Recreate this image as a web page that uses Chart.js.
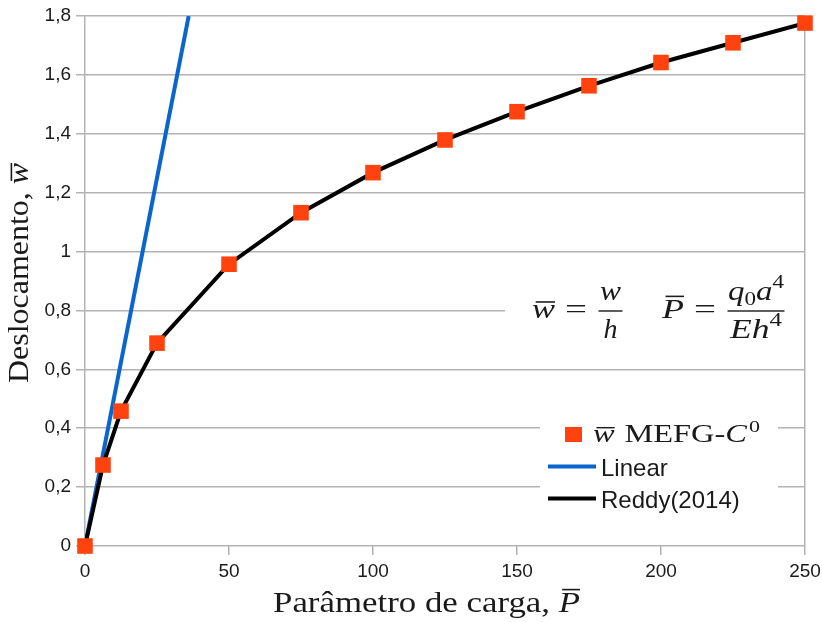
<!DOCTYPE html>
<html>
<head>
<meta charset="utf-8">
<title>Deslocamento x Parâmetro de carga</title>
<script src="https://cdn.jsdelivr.net/npm/chart.js@4.4.1/dist/chart.umd.min.js"></script>
<style>
  html, body { margin: 0; padding: 0; background: #ffffff; }
  #wrap { width: 822px; height: 622px; }
</style>
</head>
<body>
<div id="wrap"><canvas id="chart" width="822" height="622"></canvas></div>
<script>
// Load parameter P̄ and central deflection w̄
const loadParam = [0, 6.25, 12.5, 25, 50, 75, 100, 125, 150, 175, 200, 225, 250];
const mefgDeflection = [0, 0.275, 0.458, 0.689, 0.957, 1.132, 1.268, 1.379, 1.475, 1.563, 1.642, 1.709, 1.776];
const reddyDeflection = [0, 0.275, 0.458, 0.689, 0.957, 1.132, 1.268, 1.379, 1.475, 1.563, 1.642, 1.709, 1.776];

// Linear (small deflection) solution
const linearLoad = [0, 36];
const linearDeflection = [0, 1.8];

// Axis ticks
const xTickValues = [0, 50, 100, 150, 200, 250];
const xTickLabels = ['0', '50', '100', '150', '200', '250'];
const yTickValues = [0, 0.2, 0.4, 0.6, 0.8, 1.0, 1.2, 1.4, 1.6, 1.8];
const yTickLabels = ['0', '0,2', '0,4', '0,6', '0,8', '1', '1,2', '1,4', '1,6', '1,8'];

const SERIF = '"Liberation Serif", "Times New Roman", serif';
const SANS = '"Liberation Sans", Arial, sans-serif';
const INK = '#1a1a1a';
const GRID = '#b3b3b3';
const ORANGE = '#ff420e';
const BLUE = '#0a66cc';

const pairs = (xs, ys) => xs.map((x, i) => ({ x: x, y: ys[i] }));

// Draw a run of math-like text pieces at (x, y); returns the advance width
function drawRuns(ctx, runs, x, y, base, measureOnly) {
  let cx = x;
  for (const r of runs) {
    const size = base * (r.s || 1);
    ctx.font = (r.it ? 'italic ' : '') + size + 'px ' + SERIF;
    const w = ctx.measureText(r.t).width;
    if (!measureOnly) {
      ctx.fillText(r.t, cx, y + (r.dy || 0) * base);
      if (r.over) {
        ctx.fillRect(cx + w * 0.16, y - base * r.over, w * 0.84, Math.max(1.4, base * 0.055));
      }
    }
    cx += w + (r.gap || 0) * base;
  }
  return cx - x;
}
// Draw runs stretched horizontally so they span exactly `width` pixels starting at x
function drawFitted(ctx, runs, x, y, base, width) {
  const natural = drawRuns(ctx, runs, 0, 0, base, true);
  const k = width / natural;
  ctx.save();
  ctx.translate(x, y);
  ctx.scale(k, 1);
  drawRuns(ctx, runs, 0, 0, base);
  ctx.restore();
}
function fraction(ctx, num, numW, den, denW, cx, barY, barW, base) {
  drawFitted(ctx, num, cx - numW / 2, barY - 11, base, numW);
  drawFitted(ctx, den, cx - denW / 2, barY + 27, base, denW);
  ctx.fillRect(cx - barW / 2, barY - 0.7, barW, 1.4);
}

const decorations = {
  id: 'decorations',
  beforeDatasetsDraw(chart) {
    const ctx = chart.ctx;
    ctx.save();
    ctx.fillStyle = '#ffffff';
    // panel behind the definitions
    ctx.fillRect(505, 262, chart.chartArea.right - 505 - 1, 96);
    // legend panel
    ctx.fillRect(540, 414, 238, 106);
    ctx.restore();
  },
  afterDraw(chart) {
    const ctx = chart.ctx;
    const ds = chart.data.datasets;
    ctx.save();
    ctx.fillStyle = INK;
    ctx.textBaseline = 'alphabetic';
    ctx.textAlign = 'left';

    // x axis title
    drawFitted(ctx, [{ t: 'Parâmetro de carga, ' }, { t: 'P', it: true, over: 0.8 }], 273, 612, 29, 307);

    // y axis title
    ctx.save();
    ctx.translate(28, 383);
    ctx.rotate(-Math.PI / 2);
    drawFitted(ctx, [{ t: 'Deslocamento, ' }, { t: 'w', it: true, over: 0.6 }], 0, 0, 29, 220);
    ctx.restore();

    // definitions: w̄ = w/h   P̄ = q0 a^4 / (E h^4)
    const fs = 28;
    drawFitted(ctx, [{ t: 'w', it: true, over: 0.6 }], 532, 318, fs, 23);
    drawFitted(ctx, [{ t: '=' }], 565, 318, fs, 22);
    fraction(ctx, [{ t: 'w', it: true }], 21, [{ t: 'h', it: true }], 14, 610.5, 311, 24, fs);
    drawFitted(ctx, [{ t: 'P', it: true, over: 0.8 }], 662, 318, fs, 22);
    drawFitted(ctx, [{ t: '=' }], 694, 318, fs, 22);
    fraction(ctx,
      [{ t: 'q', it: true }, { t: '0', s: 0.7, dy: 0.18 }, { t: 'a', it: true }, { t: '4', s: 0.7, dy: -0.42 }], 56,
      [{ t: 'E', it: true }, { t: 'h', it: true }, { t: '4', s: 0.7, dy: -0.42 }], 52,
      756, 311, 57, fs);

    // legend
    const mk = ds[0];
    ctx.fillStyle = mk.backgroundColor;
    ctx.fillRect(565, 427, 17, 15);
    ctx.fillStyle = INK;
    drawFitted(ctx, [
      { t: 'w', it: true, over: 0.6, gap: 0.3 },
      { t: 'MEFG-' },
      { t: 'C', it: true, gap: 0.06 },
      { t: '0', s: 0.68, dy: -0.42 }
    ], 593, 442, 25, 167);

    const legendLine = (d, y, label) => {
      ctx.strokeStyle = d.borderColor;
      ctx.lineWidth = d.borderWidth;
      ctx.lineCap = 'butt';
      ctx.beginPath();
      ctx.moveTo(548, y);
      ctx.lineTo(596, y);
      ctx.stroke();
      ctx.fillStyle = INK;
      ctx.font = '24px ' + SANS;
      ctx.fillText(label, 601, y + 9);
    };
    legendLine(ds[1], 466.5, ds[1].label);
    legendLine(ds[2], 498.5, ds[2].label);
    ctx.restore();
  }
};

new Chart(document.getElementById('chart'), {
  type: 'scatter',
  data: {
    datasets: [
      {
        label: 'MEFG-C0',
        data: pairs(loadParam, mefgDeflection),
        showLine: false,
        pointStyle: 'rect',
        pointRadius: 11,
        pointHoverRadius: 11,
        backgroundColor: ORANGE,
        borderWidth: 0,
        clip: false,
        order: 0
      },
      {
        label: 'Linear',
        data: pairs(linearLoad, linearDeflection),
        showLine: true,
        borderColor: BLUE,
        borderWidth: 4,
        pointRadius: 0,
        fill: false,
        order: 2
      },
      {
        label: 'Reddy(2014)',
        data: pairs(loadParam, reddyDeflection),
        showLine: true,
        borderColor: '#000000',
        borderWidth: 4,
        pointRadius: 0,
        fill: false,
        order: 1
      }
    ]
  },
  options: {
    responsive: false,
    animation: false,
    devicePixelRatio: 1,
    layout: { padding: { left: 0, top: 16, right: 17, bottom: 0 } },
    plugins: {
      legend: { display: false },
      tooltip: { enabled: false },
      title: { display: false }
    },
    scales: {
      x: {
        type: 'linear',
        min: 0,
        max: 250,
        afterBuildTicks: s => { s.ticks = xTickValues.map(v => ({ value: v })); },
        afterFit: s => { s.height = 76; s.paddingLeft = 0; s.paddingRight = 0; },
        ticks: {
          callback: (v, i) => xTickLabels[i],
          color: INK,
          font: { family: SANS, size: 19 },
          padding: 5,
          maxRotation: 0
        },
        grid: {
          color: c => (c.tick && (c.tick.value === 0 || c.tick.value === 250)) ? GRID : 'rgba(0,0,0,0)',
          tickColor: GRID,
          tickLength: 9,
          lineWidth: 1.5
        },
        border: { display: false }
      },
      y: {
        type: 'linear',
        min: 0,
        max: 1.8,
        afterBuildTicks: s => { s.ticks = yTickValues.map(v => ({ value: v })); },
        afterFit: s => { s.width = 85; s.paddingTop = 0; s.paddingBottom = 0; },
        ticks: {
          callback: (v, i) => yTickLabels[i],
          color: INK,
          font: { family: SANS, size: 19 },
          padding: 5
        },
        grid: {
          color: GRID,
          tickColor: GRID,
          tickLength: 9,
          lineWidth: 1.5
        },
        border: { display: false }
      }
    }
  },
  plugins: [decorations]
});
</script>
</body>
</html>
